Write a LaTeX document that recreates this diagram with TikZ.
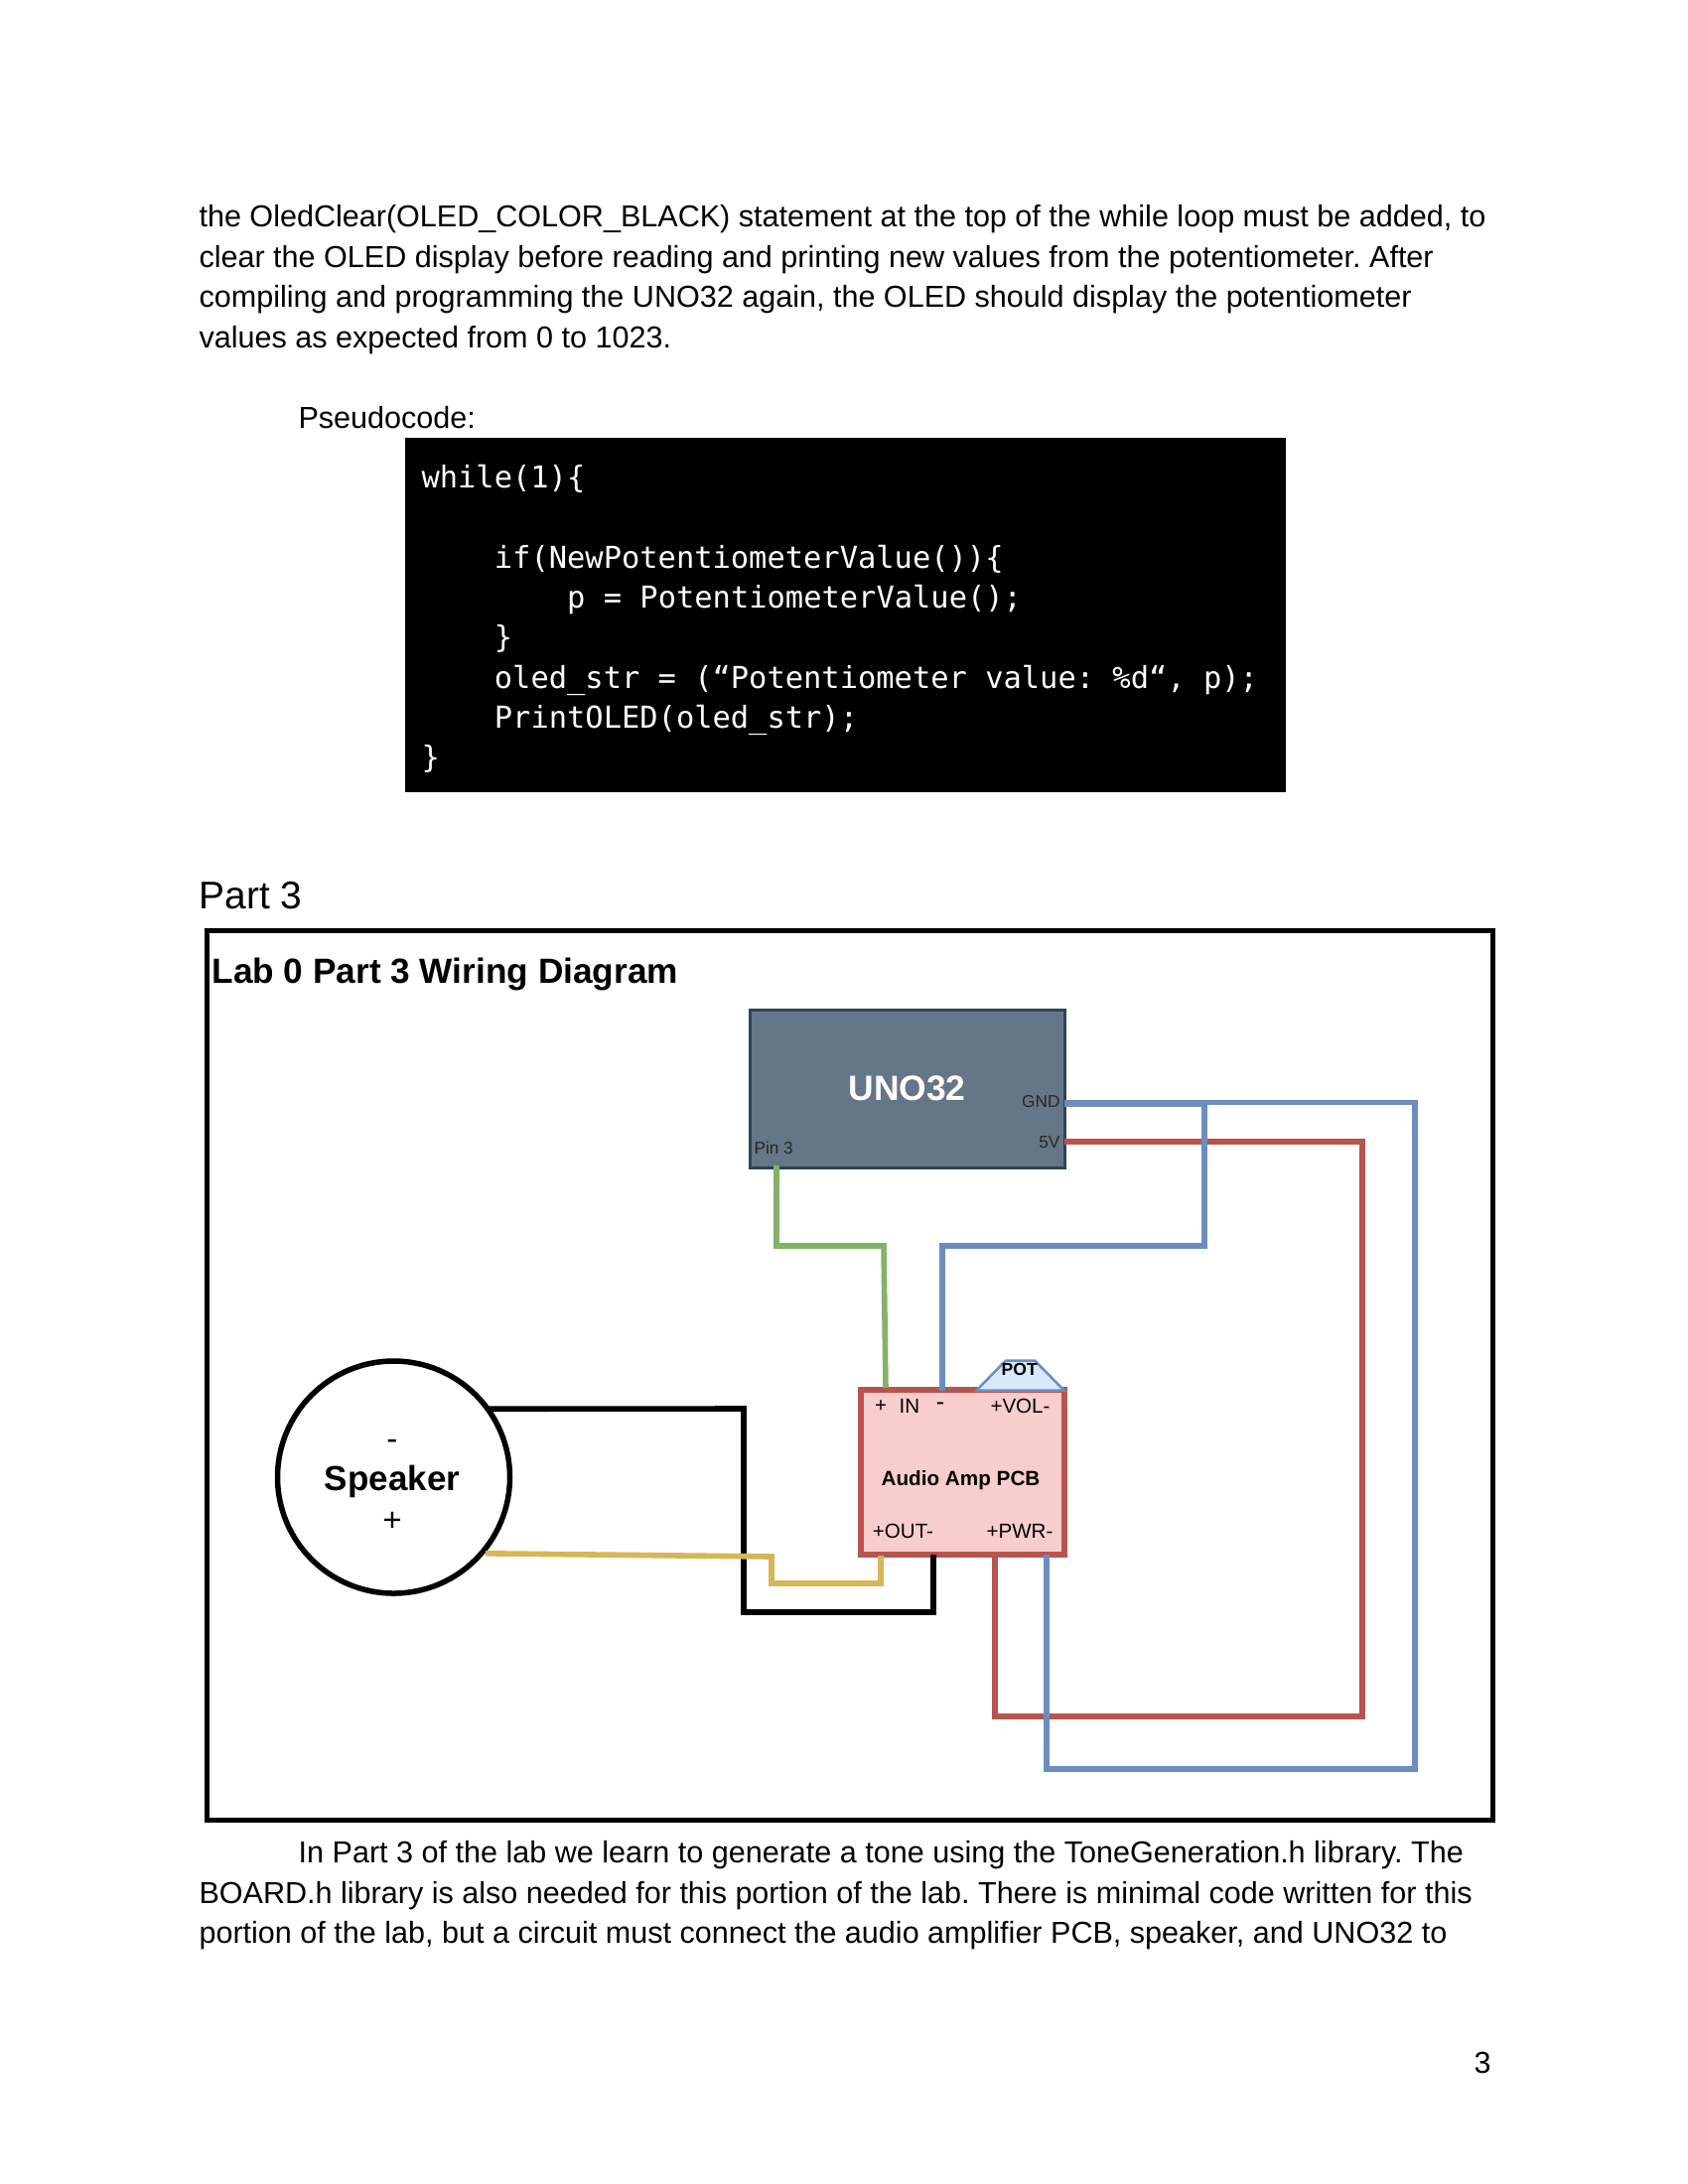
\documentclass[tikz,border=0pt]{standalone}
\usepackage{fontspec}
\setmainfont{Liberation Sans}
\setmonofont{DejaVu Sans Mono}
\usetikzlibrary{calc,shapes.geometric}
\definecolor{WireBlue}{HTML}{6C8EBF}
\definecolor{WireRed}{HTML}{B85450}
\definecolor{WireGreen}{HTML}{82B366}
\definecolor{WireGold}{HTML}{D6B656}
\definecolor{UnoFill}{HTML}{647687}
\definecolor{UnoLine}{HTML}{314354}
\definecolor{AmpFill}{HTML}{F8CECC}
\definecolor{PotFill}{HTML}{DAE8FC}
\newcommand{\px}{0.36135pt}
\newcommand{\fsz}[2]{\fontsize{#1bp}{#2pt}\selectfont}
\frenchspacing

\begin{document}
\begin{tikzpicture}[
  x=0.36135pt,y=-0.36135pt,
  wire/.style={
    line width=5.6*\px,
    line join=miter
  },
  bodytext/.style={
    anchor=north west,
    inner sep=0pt,
    align=left,
    font=\fsz{11}{14.63}
  },
  portlabel/.style={
    inner sep=0pt,
    font=\fsz{7.4}{9}
  },
  boardpin/.style={
    inner sep=0pt,
    font=\fsz{6.2}{8},
    text=black!85
  }
]
\useasboundingbox (0,0) rectangle (1700,2200);

% -------------------------------------------------
% Page text
% -------------------------------------------------
\node[bodytext] (intro) at (200,206)
{the OledClear(OLED\_COLOR\_BLACK) statement at the top of the while loop must be added, to\\
clear the OLED display before reading and printing new values from the potentiometer. After\\
compiling and programming the UNO32 again, the OLED should display the potentiometer\\
values as expected from 0 to 1023.};

\node[bodytext] (pseudo) at (300,409) {Pseudocode:};

\node[
  fill=black,
  draw=black,
  anchor=north west,
  outer sep=0pt,
  minimum width=885*\px,
  minimum height=355*\px
] (code) at (409,442) {};

\node[
  anchor=west,
  inner sep=0pt,
  text width=860*\px,
  align=flush left,
  text=white,
  font=\ttfamily\fsz{10.95}{14.58}
] (codetext) at (424,623.5)
{while(1)\{\\
\strut\\
\hspace*{26.5pt}if(NewPotentiometerValue())\{\\
\hspace*{53pt}p = PotentiometerValue();\\
\hspace*{26.5pt}\}\\
\hspace*{26.5pt}oled\_str = (“Potentiometer value: \%d“, p);\\
\hspace*{26.5pt}PrintOLED(oled\_str);\\
\}};

\node[bodytext, font=\fsz{14}{16}] (part) at (200,888) {Part 3};

\node[bodytext] (outro) at (200,1854)
{\hspace*{36.2pt}In Part 3 of the lab we learn to generate a tone using the ToneGeneration.h library. The\\
BOARD.h library is also needed for this portion of the lab. There is minimal code written for this\\
portion of the lab, but a circuit must connect the audio amplifier PCB, speaker, and UNO32 to};

\node[bodytext] (pagenum) at (1484,2067) {3};

% -------------------------------------------------
% Diagram frame
% -------------------------------------------------
\node[
  draw=black,
  line width=5*\px,
  anchor=north west,
  outer sep=0pt,
  minimum width=1294.5*\px,
  minimum height=895.5*\px
] (frame) at (208.5,937.5) {};

\node[anchor=west, inner sep=0pt, font=\bfseries\fsz{12.68}{15}] (title) at (213,981) {Lab 0 Part 3 Wiring Diagram};

% -------------------------------------------------
% Boards and speaker
% -------------------------------------------------
\node[
  draw=UnoLine,
  fill=UnoFill,
  line width=3*\px,
  outer sep=0pt,
  anchor=north west,
  minimum width=317*\px,
  minimum height=159*\px,
  text=white,
  font=\bfseries\fsz{12.75}{15}
] (uno) at (755,1017) {UNO32};

\node[
  draw=WireRed,
  fill=AmpFill,
  line width=5.5*\px,
  outer sep=0pt,
  anchor=north west,
  minimum width=205*\px,
  minimum height=166*\px
] (amp) at (867,1400) {};

\node[
  circle,
  draw=black,
  fill=white,
  line width=5.5*\px,
  outer sep=0pt,
  inner sep=0pt,
  minimum size=234*\px
] (speaker) at (396.5,1488) {};

\node[
  inner sep=0pt,
  align=center,
  font=\fsz{12}{14.7}
] (speakerlabel) at (395,1496.5) {-\\{\bfseries\fsz{12.6}{14.7}Speaker}\\+};

% -------------------------------------------------
% Wires
% -------------------------------------------------
\draw[wire, draw=WireRed] ($(uno.north east)+(0,133)$) -- (1372,1150) -- (1372,1729) -- (1002,1729) -- (1002,1566);
\draw[wire, draw=WireGreen] ($(uno.south west)+(27,-2)$) -- (782,1255) -- (890,1255) -- (892,1398);
\draw[wire, draw=WireBlue] ($(uno.north east)+(0,95.5)$) -- (1213,1112.5) -- (1213,1255) -- (949,1255) -- (949,1401);
\draw[wire, draw=WireBlue] ($(uno.north east)+(0,93.5)$) -- (1425,1110.5) -- (1425,1782) -- (1054,1782) -- (1054,1566);
\draw[wire, draw=black, shorten <=2*\px] (speaker.36) -- (749,1419) -- (749,1624) -- (940,1624) -- (940,1566);
\draw[wire, draw=WireGold, shorten <=4*\px] (speaker.-41) -- (777,1568) -- (777,1595) -- (887,1595) -- (887,1567);

% -------------------------------------------------
% Pot on top of the amp
% -------------------------------------------------
\node[
  trapezium,
  trapezium left angle=45,
  trapezium right angle=45,
  trapezium stretches=true,
  draw=WireBlue,
  fill=PotFill,
  line width=2.5*\px,
  inner sep=1pt,
  minimum width=88*\px,
  minimum height=30*\px
] (pot) at (1027.5,1385.5) {};

\node[inner sep=0pt, font=\bfseries\fsz{6.3}{8}] (potlabel) at (1026.7,1379) {POT};

% -------------------------------------------------
% Pin labels
% -------------------------------------------------
\node[boardpin, anchor=east] (gnd) at (1068,1110) {GND};
\node[boardpin, anchor=east] (fivev) at (1068,1151) {5V};
\node[boardpin, anchor=west] (pin) at (759,1156.5) {Pin 3};

\node[portlabel] (inplus) at (887,1416.5) {+};
\node[portlabel] (inlabel) at (916,1416.5) {IN};
\node[portlabel, font=\fsz{9}{9}] (inminus) at (947,1416.5) {-};
\node[portlabel] (vol) at (1027.5,1416.5) {+VOL-};
\node[portlabel] (out) at (909.5,1542) {+OUT-};
\node[portlabel] (pwr) at (1027,1542) {+PWR-};
\node[inner sep=0pt, font=\bfseries\fsz{7.45}{9}] (amplabel) at (967.5,1491.5) {Audio Amp PCB};

\end{tikzpicture}
\end{document}
